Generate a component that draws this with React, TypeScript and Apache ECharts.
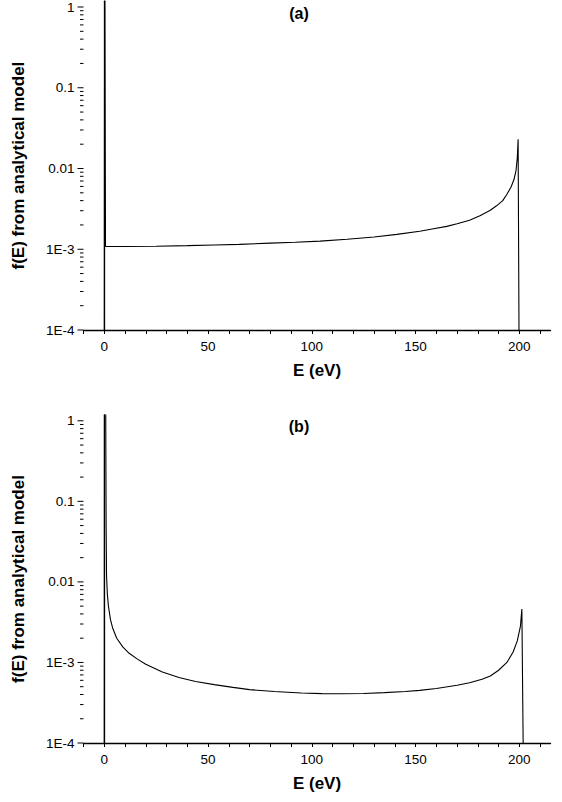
import React, { useEffect, useRef } from "react";
import * as echarts from "echarts";

// Panel (a) data: energy (eV) and f(E)
const energyA = [0, 0.2, 0.6, 1, 10, 25, 40, 53, 65, 80, 92, 104, 117, 130, 141, 152, 158, 165, 170, 176, 181, 186, 189, 192, 194, 196, 197.4, 198.4, 199, 199.4, 200.0];
const fA = [1e-5, 20, 1.08e-3, 1.08e-3, 1.08e-3, 1.09e-3, 1.11e-3, 1.13e-3, 1.15e-3, 1.19e-3, 1.22e-3, 1.26e-3, 1.33e-3, 1.42e-3, 1.53e-3, 1.67e-3, 1.78e-3, 1.92e-3, 2.07e-3, 2.29e-3, 2.6e-3, 3.04e-3, 3.45e-3, 4.0e-3, 4.8e-3, 5.9e-3, 7.3e-3, 9.5e-3, 0.0135, 0.023, 1e-5];

// Panel (b) data
const energyB = [0, 0.1, 0.7, 0.9, 1.1, 1.5, 2, 3, 4, 6, 9, 12, 16, 20, 28, 36, 44, 53, 62, 70, 82, 95, 105, 114, 125, 135, 145, 152, 160, 170, 176, 182, 186, 190, 194, 197, 199, 200.5, 201.2, 202.2];
const fB = [1e-5, 20, 1.5, 0.05, 0.012, 7e-3, 5e-3, 3.4e-3, 2.7e-3, 2.0e-3, 1.55e-3, 1.3e-3, 1.1e-3, 9.5e-4, 7.6e-4, 6.5e-4, 5.8e-4, 5.3e-4, 4.9e-4, 4.6e-4, 4.35e-4, 4.17e-4, 4.1e-4, 4.08e-4, 4.12e-4, 4.22e-4, 4.35e-4, 4.5e-4, 4.75e-4, 5.2e-4, 5.6e-4, 6.2e-4, 6.8e-4, 8.0e-4, 1.0e-3, 1.35e-3, 1.85e-3, 2.8e-3, 4.6e-3, 1e-5];

const xLabelValues = [0, 50, 100, 150, 200];
const xTickValues = [-10, 0, 10, 20, 30, 40, 50, 60, 70, 80, 90, 100, 110, 120, 130, 140, 150, 160, 170, 180, 190, 200, 210];
const yDecades = [1e-4, 1e-3, 1e-2, 1e-1, 1];
const yMinorFactors = [2, 3, 4, 5, 6, 7, 8, 9];

const X_MIN = -10;
const X_MAX = 215;
const Y_MIN = 1e-4;
const Y_MAX = 1.18;

const FONT = "'Liberation Sans', Arial, sans-serif";

function yTickData() {
  const out: number[][] = [];
  yDecades.forEach((d) => {
    out.push([X_MIN, d, 1]);
    if (d < 1) yMinorFactors.forEach((m) => out.push([X_MIN, d * m, 0]));
  });
  return out;
}

function logLabel(v: number) {
  const l = Math.log10(v);
  const e = Math.round(l);
  if (Math.abs(l - e) > 1e-6) return "";
  if (e >= -2) return String(Math.pow(10, e));
  return "1E" + e;
}

export default function App() {
  const ref = useRef<HTMLDivElement>(null);
  useEffect(() => {
    if (!ref.current) return;
    const chart = echarts.init(ref.current, null, { renderer: "svg" });
    const grids = [
      { left: 83.5, width: 467, top: 1, height: 329 },
      { left: 83.5, width: 467, top: 415, height: 328 },
    ];
    const xAxis = grids.map((_, i) => ({
      type: "value",
      gridIndex: i,
      min: X_MIN,
      max: X_MAX,
      name: "E (eV)",
      nameLocation: "middle",
      nameGap: 32,
      nameTextStyle: { fontFamily: FONT, fontSize: 17, fontWeight: "bold", color: "#000" },
      axisLine: { show: true, onZero: false, lineStyle: { color: "#000", width: 1.3 } },
      axisTick: { show: true, inside: false, length: 4, customValues: xTickValues, lineStyle: { color: "#000", width: 1 } },
      axisLabel: { customValues: xLabelValues, margin: 9, fontFamily: FONT, fontSize: 13.5, color: "#000" },
      splitLine: { show: false },
    }));
    const yAxis = grids.map((_, i) => ({
      type: "log",
      logBase: 10,
      gridIndex: i,
      min: Y_MIN,
      max: Y_MAX,
      name: "f(E) from analytical model",
      nameLocation: "middle",
      nameGap: 57,
      nameTextStyle: { fontFamily: FONT, fontSize: 17, fontWeight: "bold", color: "#000" },
      axisLine: { show: true, lineStyle: { color: "#000", width: 1.3 } },
      axisTick: { show: false },
      axisLabel: { formatter: logLabel, margin: 9, fontFamily: FONT, fontSize: 13.5, color: "#000" },
      splitLine: { show: false },
    }));
    const tickSeries = grids.map((_, i) => ({
      type: "custom",
      xAxisIndex: i,
      yAxisIndex: i,
      clip: false,
      silent: true,
      data: yTickData(),
      encode: { x: 0, y: 1 },
      renderItem: (params: any, api: any) => {
        const p = api.coord([api.value(0), api.value(1)]);
        const len = api.value(2) ? 6 : 3.5;
        return {
          type: "line",
          shape: { x1: p[0] - len, y1: p[1], x2: p[0], y2: p[1] },
          style: { stroke: "#000", lineWidth: 1 },
        };
      },
    }));
    const lineSeries = [
      { e: energyA, f: fA },
      { e: energyB, f: fB },
    ].map((d, i) => ({
      type: "line",
      xAxisIndex: i,
      yAxisIndex: i,
      showSymbol: false,
      symbol: "none",
      clip: true,
      lineStyle: { color: "#000", width: 1.1 },
      data: d.e.map((x, k) => [x, d.f[k]]),
    }));
    chart.setOption({
      animation: false,
      backgroundColor: "#fff",
      grid: grids,
      xAxis,
      yAxis,
      series: [...lineSeries, ...tickSeries],
      graphic: [
        { type: "text", x: 299, y: 13, style: { text: "(a)", font: `bold 16px ${FONT}`, fill: "#000", textAlign: "center", textVerticalAlign: "middle" } },
        { type: "text", x: 299, y: 426, style: { text: "(b)", font: `bold 16px ${FONT}`, fill: "#000", textAlign: "center", textVerticalAlign: "middle" } },
      ],
    });
    return () => chart.dispose();
  }, []);
  return <div ref={ref} style={{ position: "fixed", left: 0, top: 0, width: 562, height: 802, background: "#fff" }} />;
}
